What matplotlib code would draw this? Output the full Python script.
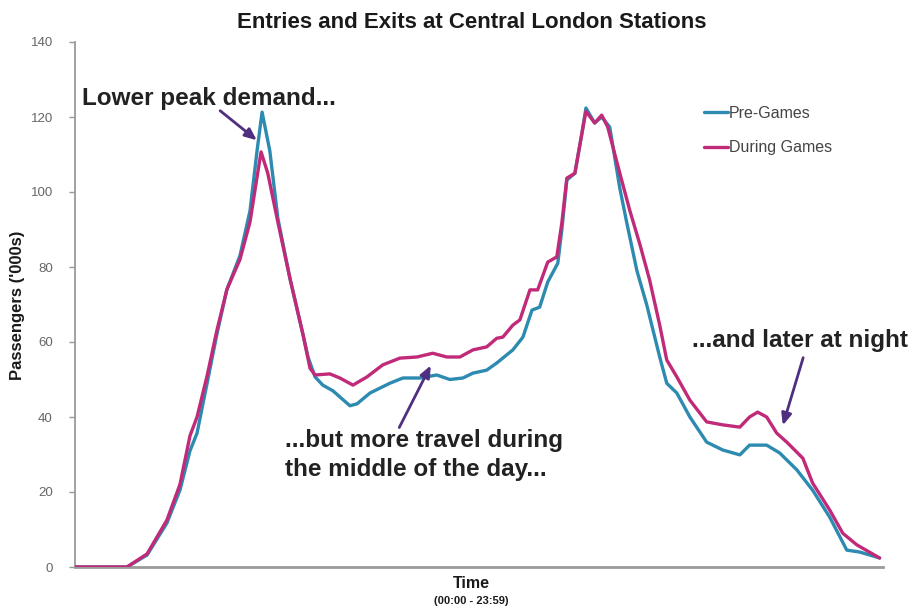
import matplotlib
matplotlib.use("Agg")
import matplotlib.pyplot as plt

# ---- data (hours since 00:00, passengers in '000s) ----
pre_hours = [0, 1.34, 1.55, 2.15, 2.74, 3.13, 3.43, 3.64, 3.94, 4.23,
             4.53, 4.92, 5.22, 5.43, 5.58, 5.81, 6.05, 6.41, 6.80, 6.95,
             7.16, 7.39, 7.69, 8.20, 8.41, 8.80, 9.39, 9.78, 10.29, 10.79,
             11.18, 11.57, 11.87, 12.28, 12.58, 13.06, 13.36, 13.63, 13.86, 14.10,
             14.40, 14.52, 14.67, 14.91, 15.12, 15.24, 15.50, 15.71, 15.95, 16.25,
             16.46, 16.76, 17.05, 17.44, 17.65, 17.95, 18.34, 18.84, 19.32, 19.83,
             20.12, 20.63, 21.02, 21.53, 22.00, 22.51, 23.02, 23.40, 24.0]
pre_values = [0, 0, 0, 3.2, 11.7, 20.5, 31, 35.7, 49, 62,
              74, 83, 95, 111, 121.3, 111, 93, 77, 62, 56,
              50.7, 48.5, 47, 43, 43.5, 46.4, 49, 50.4, 50.4, 51.2,
              50, 50.4, 51.7, 52.5, 54.4, 57.9, 61.3, 68.5, 69.3, 76,
              81, 89.9, 103.2, 105, 115.7, 122.4, 118.4, 120, 117.3, 101,
              91.7, 79, 70, 56, 49, 46.4, 40, 33.3, 31.2, 29.9,
              32.5, 32.5, 30.4, 25.9, 20.5, 13.3, 4.5, 4, 2.4]

during_hours = [0, 1.55, 2.15, 2.74, 3.13, 3.43, 3.64, 3.94, 4.23, 4.53,
                4.92, 5.22, 5.43, 5.55, 5.75, 6.05, 6.41, 6.80, 7.01, 7.16,
                7.60, 7.90, 8.29, 8.71, 9.18, 9.69, 10.20, 10.67, 11.09, 11.48,
                11.87, 12.28, 12.58, 12.76, 13.06, 13.27, 13.57, 13.80, 14.10, 14.37,
                14.52, 14.67, 14.91, 15.12, 15.24, 15.50, 15.71, 15.89, 16.25, 16.55,
                16.85, 17.14, 17.44, 17.65, 17.95, 18.34, 18.84, 19.32, 19.83, 20.12,
                20.36, 20.63, 20.93, 21.23, 21.71, 22.00, 22.51, 22.90, 23.32, 24.0]
during_values = [0, 0, 3.5, 12.5, 22, 35, 40, 51, 63, 74,
                 82, 92, 104, 110.7, 105, 92, 77, 62, 53, 51.2,
                 51.5, 50.4, 48.5, 50.7, 53.9, 55.7, 56, 57, 56, 56,
                 57.9, 58.7, 61, 61.3, 64.5, 65.9, 73.9, 73.9, 81.3, 82.7,
                 91.7, 103.7, 105, 115.7, 121.5, 118.4, 120.5, 117.3, 105, 95,
                 86, 76.5, 64.5, 55.2, 50.7, 44.5, 38.7, 37.9, 37.3, 40,
                 41.3, 40, 35.7, 33.3, 29, 22.4, 15.2, 9, 5.9, 2.4]

series_names = ["Pre-Games", "During Games"]
y_ticks = [0, 20, 40, 60, 80, 100, 120, 140]

title = "Entries and Exits at Central London Stations"
ylabel = "Passengers ('000s)"
xlabel = "Time"
xsub = "(00:00 - 23:59)"

BLUE = "#2d8ab0"
PINK = "#c02a78"
ARROW = "#4e2f80"
W, H = 915, 613

fig = plt.figure(figsize=(W / 100, H / 100), dpi=100)
fig.patch.set_facecolor("white")
ax = fig.add_axes([75 / W, 1 - 567 / H, 808 / W, 525 / H])

ax.plot(pre_hours, pre_values, color=BLUE, lw=2.4, label=series_names[0],
        solid_joinstyle="round", solid_capstyle="round", zorder=3)
ax.plot(during_hours, during_values, color=PINK, lw=2.4, label=series_names[1],
        solid_joinstyle="round", solid_capstyle="round", zorder=4)

ax.set_xlim(0, 24.1)
ax.set_ylim(0, 140)
ax.set_yticks(y_ticks)
ax.set_yticklabels([str(t) for t in y_ticks], fontsize=9.5, color="#666666",
                   family="Liberation Sans")
ax.set_xticks([])
ax.tick_params(axis="y", length=4, width=1, color="#999999", pad=12)
for s in ["top", "right"]:
    ax.spines[s].set_visible(False)
ax.spines["left"].set_color("#9a9a9a")
ax.spines["left"].set_linewidth(1.3)
ax.spines["bottom"].set_color("#9a9a9a")
ax.spines["bottom"].set_linewidth(2)

fig.text(472 / W, 1 - 22 / H, title, ha="center", va="center",
         fontsize=16, fontweight="bold", family="Liberation Sans", color="#1a1a1a")
fig.text(18 / W, 1 - 305 / H, ylabel, ha="center", va="center", rotation=90,
         fontsize=12, fontweight="bold", family="Liberation Sans", color="#1a1a1a")
fig.text(471 / W, 1 - 583 / H, xlabel, ha="center", va="center",
         fontsize=11.5, fontweight="bold", family="Liberation Sans", color="#1a1a1a")
fig.text(471 / W, 1 - 601 / H, xsub, ha="center", va="center",
         fontsize=8, fontweight="bold", family="Liberation Sans", color="#1a1a1a")

leg = ax.legend(loc="upper left", bbox_to_anchor=(704 / W, 1 - 106 / H),
                bbox_transform=fig.transFigure, frameon=False,
                handlelength=1.5, handletextpad=0.05, labelspacing=1.2,
                borderpad=0, borderaxespad=0,
                prop={"family": "Liberation Sans", "size": 11.5})
for t in leg.get_texts():
    t.set_color("#444444")

ann_kw = dict(fontsize=17.5, fontweight="bold", family="Liberation Sans", color="#222222")
arrow_kw = dict(arrowstyle="-|>,head_length=0.7,head_width=0.3", color=ARROW, lw=2)

def px(x, y):
    return ((x - 75) / 808 * 24.1, (567 - y) / 525 * 140)

ax.text(*px(82, 98), "Lower peak demand...", ha="left", va="center", **ann_kw)
ax.annotate("", xy=px(259, 142), xytext=px(218, 109), arrowprops=arrow_kw)

ax.text(*px(285, 455), "...but more travel during\nthe middle of the day...",
        ha="left", va="center", linespacing=1.28, **ann_kw)
ax.annotate("", xy=px(432, 363), xytext=px(398, 430), arrowprops=arrow_kw)

ax.text(*px(692, 340), "...and later at night", ha="left", va="center",
        clip_on=False, **ann_kw)
ax.annotate("", xy=px(782, 428), xytext=px(804, 355), arrowprops=arrow_kw)

fig.savefig("out.png", dpi=100, facecolor="white")
